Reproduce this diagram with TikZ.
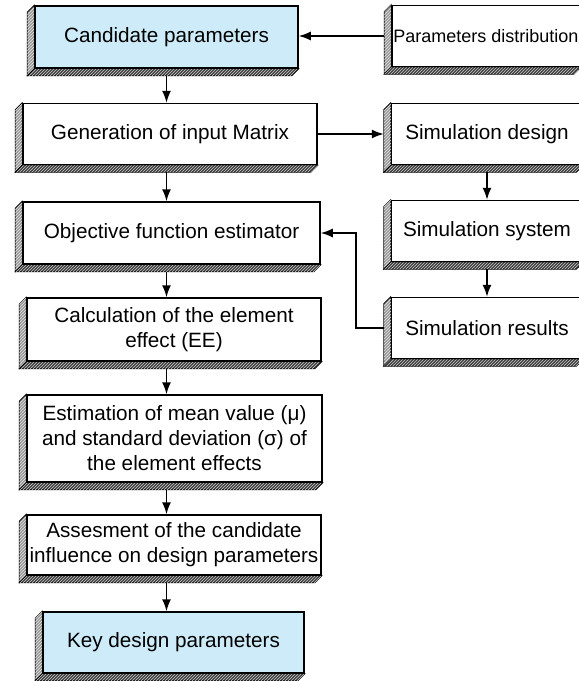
\documentclass[tikz,border=0pt]{standalone}
\usepackage{fontspec}
\setmainfont{Liberation Sans}
\usetikzlibrary{arrows.meta,positioning,patterns,backgrounds}
\definecolor{hellblau}{RGB}{205,235,248}

% schraege Kante links und unten an einem Kasten
\newcommand{\kante}[1]{%
  \filldraw[seite] (#1.north west) -- ++(-7,7) -- ([shift={(-7,7)}]#1.south west) -- (#1.south west) -- cycle;
  \filldraw[boden] ([shift={(-7,7)}]#1.south west) -- ([shift={(-7,7)}]#1.south east) -- (#1.south east) -- (#1.south west) -- cycle;}

\begin{document}
\begin{tikzpicture}[x=1pt, y=-1pt,
      block/.style={rectangle, draw=black, line width=1.5pt, fill=white, inner sep=1pt, align=center, font=\fontsize{20.7}{25}\selectfont},
      seite/.style={draw=black, line width=0.8pt, fill=black!40, postaction={pattern=north east lines, pattern color=white!90!black}},
      boden/.style={draw=black, line width=0.8pt, fill=black!75, postaction={pattern=north east lines, pattern color=white!80!black}},
      pfeil/.style={-{Latex[length=12pt,width=9pt]}, line width=1.5pt}]

\useasboundingbox (0,0) rectangle (579,681);
\clip (0,0) rectangle (579,681);

% linke Spalte
\node[block, fill=hellblau, minimum width=263pt, minimum height=62pt] (c1) at (166.5,37) {Candidate parameters};
\node[block, minimum width=294pt, minimum height=61pt] (c2) at (170,134) {Generation of input Matrix};
\node[block, minimum width=297pt, minimum height=62pt] (c3) at (171.5,233) {Objective function estimator};
\node[block, minimum width=294pt, minimum height=63pt] (c4) at (174,329.5) {Calculation of the element\\effect (EE)};
\node[block, minimum width=295pt, minimum height=87pt] (c5) at (174.5,438.5) {Estimation of mean value (μ)\\and standard deviation (σ) of\\the element effects};
\node[block, minimum width=294pt, minimum height=60pt] (c6) at (174,545) {Assesment of the candidate\\influence on design parameters};
\node[block, fill=hellblau, minimum width=261pt, minimum height=61pt] (c7) at (173.5,642.5) {Key design parameters};

% rechte Spalte
\node[block, minimum width=188pt, minimum height=61pt, font=\fontsize{18}{22}\selectfont] (s1) at (486,36) {Parameters distribution};
\node[block, minimum width=191pt, minimum height=61pt] (s2) at (487,134) {Simulation design};
\node[block, minimum width=191pt, minimum height=61pt, node distance=97pt, below of=s2] (s3) {Simulation system};
\node[block, minimum width=191pt, minimum height=61pt, node distance=97pt, below of=s3] (s4) {Simulation results};

\begin{scope}[on background layer]
\foreach \n in {c1,c2,c3,c4,c5,c6,c7,s1,s2,s3,s4}
  \kante{\n};
\end{scope}

\draw[pfeil] ([yshift=-7pt]c1.south) -- (c1.south |- c2.north);
\draw[pfeil] ([yshift=-7pt]c1.south |- c2.south) -- (c1.south |- c3.north);
\draw[pfeil] ([yshift=-7pt]c1.south |- c3.south) -- (c1.south |- c4.north);
\draw[pfeil] ([yshift=-7pt]c1.south |- c4.south) -- (c1.south |- c5.north);
\draw[pfeil] ([yshift=-7pt]c1.south |- c5.south) -- (c1.south |- c6.north);
\draw[pfeil] ([yshift=-7pt]c1.south |- c6.south) -- (c1.south |- c7.north);

\draw[pfeil] ([yshift=-7pt]s2.south) -- (s3.north);
\draw[pfeil] ([yshift=-7pt]s3.south) -- (s4.north);

\draw[pfeil] ([xshift=-7pt]s1.west) -- (s1.west -| c1.east);
\draw[pfeil] (c2.east) -- ([xshift=-7pt]s2.west);
\draw[pfeil] ([xshift=-7pt]s4.west) -- ++(-28,0) |- (c3.east);

\end{tikzpicture}
\end{document}
